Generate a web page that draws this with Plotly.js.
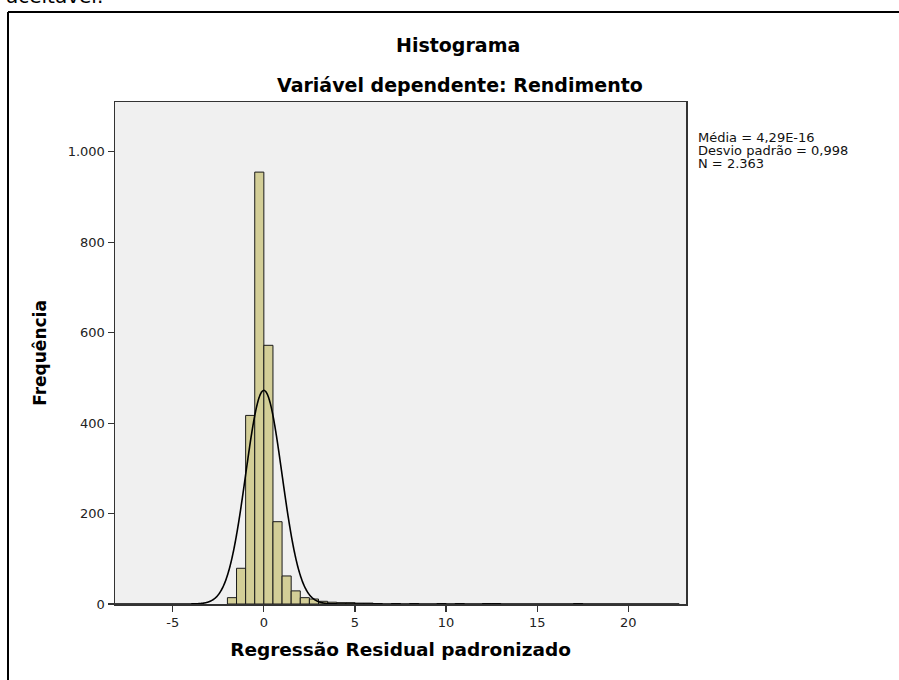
<!DOCTYPE html>
<html>
<head>
<meta charset="utf-8">
<script src="https://cdn.plot.ly/plotly-3.0.1.min.js"></script>
<style>
html,body{margin:0;padding:0;background:#fff;}
#chart{width:899px;height:680px;}
</style>
</head>
<body>
<div id="chart"></div>
<script>
// ---- data ----
var binLower = [-2.0,-1.5,-1.0,-0.5,0.0,0.5,1.0,1.5,2.0,2.5,3.0,3.5,4.0,4.5,5.0,5.5,6.0,7.0,8.0,9.5,10.5,12.0,12.5,17.0];
var counts   = [14,79,417,955,572,182,62,29,14,11,6,4,3,3,2,2,1,1,1,1,1,1,1,1];
var binWidth = 0.5;
var statMean = 4.29e-16;
var statSD = 0.998;
var statN = 2363;
var yTickVals = [0,200,400,600,800,1000];
var yTickText = ["0","200","400","600","800","1.000"];
var xTickVals = [-5,0,5,10,15,20];
var xTickText = ["-5","0","5","10","15","20"];
var statLines = ["Média = 4,29E-16","Desvio padrão = 0,998","N = 2.363"];

// bar centres
var binCenters = binLower.map(function(v){return v + binWidth/2;});

// normal curve defined by the stated mean / sd / N
var curveX = [], curveY = [];
var peak = statN*binWidth/(statSD*Math.sqrt(2*Math.PI));
for (var i=0;i<=1240;i++){
  var xv = -8.2 + i*0.025;
  var z = (xv-statMean)/statSD;
  curveX.push(xv);
  curveY.push(peak*Math.exp(-0.5*z*z));
}

var L=115, R=686, T=102, B=604;
var W=899, H=680;
function px(x){return (x-L)/(R-L);}
function py(y){return (B-y)/(B-T);}

var traces = [
  {type:'bar', x:binCenters, y:counts, width:binWidth,
   marker:{color:'#d3ce97', line:{color:'#1a1a1a', width:1}},
   hoverinfo:'skip', showlegend:false},
  {type:'scatter', mode:'lines', x:curveX, y:curveY,
   line:{color:'#000', width:1.6, shape:'spline'}, hoverinfo:'skip', showlegend:false}
];

var fontReg = 'DejaVu Sans, Arial, sans-serif';
var fontBold = 'DejaVu Sans, Arial, sans-serif';

var annotations = [
  {text:'<b>Histograma</b>', xref:'paper', yref:'paper', x:px(458), y:py(45), xanchor:'center', yanchor:'middle', showarrow:false, font:{family:fontBold,size:19,color:'#000'}},
  {text:'<b>Variável dependente: Rendimento</b>', xref:'paper', yref:'paper', x:px(460), y:py(85), xanchor:'center', yanchor:'middle', showarrow:false, font:{family:fontBold,size:19,color:'#000'}},
  {text:'aceitável.', xref:'paper', yref:'paper', x:px(4), y:py(10), xanchor:'left', yanchor:'bottom', showarrow:false, font:{family:fontReg,size:20,color:'#000'}}
];
var ly = [137,150,163];
statLines.forEach(function(t,i){
  annotations.push({text:t, xref:'paper', yref:'paper', x:px(696), y:py(ly[i]), xanchor:'left', yanchor:'middle', showarrow:false, font:{family:fontReg,size:13,color:'#111'}});
});

var layout = {
  width:W, height:H,
  margin:{l:L, r:W-R, t:T, b:H-B, pad:0},
  paper_bgcolor:'#fff', plot_bgcolor:'#f0f0f0',
  bargap:0,
  showlegend:false,
  xaxis:{range:[-8.17,23.17], tickmode:'array', tickvals:xTickVals, ticktext:xTickText,
    ticks:'outside', ticklen:6, tickwidth:1.2, tickcolor:'#333',
    showline:true, linecolor:'#333', linewidth:1.5, mirror:true,
    showgrid:false, zeroline:false,
    tickfont:{family:fontReg,size:13,color:'#222'},
    title:{text:'<b>Regressão Residual padronizado</b>', font:{family:fontBold,size:18.5,color:'#000'}, standoff:14}},
  yaxis:{range:[0,1110], tickmode:'array', tickvals:yTickVals, ticktext:yTickText,
    ticks:'outside', ticklen:6, tickwidth:1.2, tickcolor:'#333',
    showline:true, linecolor:'#333', linewidth:1.5, mirror:true,
    showgrid:false, zeroline:false,
    tickfont:{family:fontReg,size:13,color:'#222'},
    title:{text:'<b>Frequência</b>', font:{family:fontBold,size:17,color:'#000'}, standoff:16}},
  shapes:[
    {type:'line', xref:'paper', yref:'paper', x0:px(8), x1:px(905), y0:py(12), y1:py(12), line:{color:'#000', width:2}},
    {type:'line', xref:'paper', yref:'paper', x0:px(8), x1:px(8), y0:py(12), y1:py(690), line:{color:'#000', width:2}}
  ],
  annotations:annotations
};

Plotly.newPlot('chart', traces, layout, {displayModeBar:false, staticPlot:true});
</script>
</body>
</html>
